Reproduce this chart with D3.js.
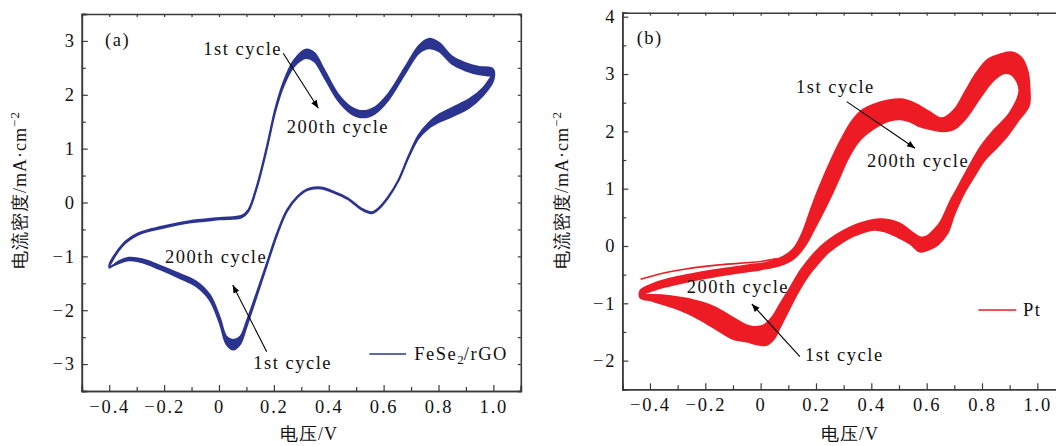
<!DOCTYPE html>
<html>
<head>
<meta charset="utf-8">
<script src="https://cdn.jsdelivr.net/npm/d3@7"></script>
<style>
body{margin:0;background:#fff}
svg text{font-family:"Liberation Serif","Times New Roman","DejaVu Serif",serif;fill:#111}
</style>
</head>
<body>
<svg width="1056" height="446"></svg>
<script>
// panel (a): FeSe2/rGO, voltage points shared by 1st and 200th cycle
var aV = [-0.40,-0.353,-0.292,-0.206,-0.108,0.003,0.083,0.107,0.138,0.175,0.205,0.236,0.273,0.316,0.347,0.384,0.433,0.482,0.525,0.568,0.617,0.678,0.728,0.764,0.801,0.85,0.899,0.948,0.998,
          1.0,0.961,0.912,0.85,0.80,0.764,0.727,0.69,0.654,0.617,0.58,0.556,0.519,0.47,0.42,0.371,0.322,0.285,0.248,0.212,0.175,0.138,0.101,0.077,0.052,0.027,0.003,-0.034,-0.083,-0.145,-0.218,-0.28,-0.329,-0.366]
var aCycle1 = [-1.185,-0.785,-0.565,-0.445,-0.345,-0.285,-0.245,-0.135,0.31,1.055,1.74,2.25,2.64,2.84,2.78,2.46,2.02,1.77,1.70,1.77,2.02,2.51,2.91,3.04,2.97,2.71,2.59,2.52,2.48,
          2.27,1.98,1.76,1.60,1.49,1.38,1.19,0.825,0.40,0.09,-0.13,-0.20,-0.13,0.06,0.18,0.26,0.23,0.09,-0.165,-0.60,-1.165,-1.735,-2.30,-2.63,-2.73,-2.63,-2.25,-1.81,-1.555,-1.40,-1.235,-1.11,-1.075,-1.13]
var aCycle200 = [-1.215,-0.815,-0.595,-0.475,-0.375,-0.315,-0.275,-0.165,0.27,1.005,1.68,2.17,2.52,2.68,2.62,2.32,1.90,1.65,1.58,1.65,1.90,2.39,2.77,2.86,2.81,2.57,2.45,2.38,2.36,
          2.39,2.12,1.92,1.76,1.63,1.48,1.25,0.855,0.42,0.11,-0.11,-0.18,-0.11,0.08,0.20,0.28,0.25,0.11,-0.135,-0.56,-1.115,-1.665,-2.20,-2.49,-2.55,-2.49,-2.13,-1.71,-1.465,-1.32,-1.165,-1.05,-1.025,-1.09]

// panel (b): Pt, outer (1st) and inner (200th) cycle
var bV1 = [-0.435,-0.40,-0.33,-0.25,-0.15,-0.05,0.03,0.08,0.12,0.15,0.18,0.21,0.25,0.29,0.33,0.37,0.41,0.46,0.51,0.56,0.61,0.655,0.70,0.74,0.78,0.82,0.87,0.905,0.94,0.965,0.972,0.97,
           0.93,0.89,0.85,0.81,0.77,0.735,0.70,0.675,0.64,0.61,0.575,0.54,0.494,0.45,0.41,0.36,0.313,0.27,0.241,0.20,0.169,0.13,0.096,0.07,0.048,0.02,-0.01,-0.05,-0.096,-0.145,-0.217,-0.27,-0.325,-0.39,-0.435]
var bI1 = [-0.78,-0.68,-0.57,-0.49,-0.41,-0.34,-0.28,-0.19,-0.04,0.22,0.62,1.00,1.45,1.85,2.18,2.38,2.47,2.54,2.56,2.48,2.34,2.23,2.38,2.70,3.02,3.25,3.35,3.38,3.30,3.05,2.75,2.45,
           2.18,1.91,1.70,1.50,1.20,0.92,0.55,0.22,0.02,-0.06,-0.10,0.04,0.16,0.25,0.28,0.22,0.12,-0.02,-0.13,-0.35,-0.54,-0.85,-1.17,-1.42,-1.62,-1.73,-1.72,-1.67,-1.63,-1.50,-1.29,-1.16,-1.06,-0.96,-0.90]
var bV200 = [-0.42,-0.38,-0.30,-0.20,-0.10,0.0,0.07,0.12,0.16,0.20,0.235,0.265,0.29,0.313,0.35,0.386,0.434,0.47,0.506,0.54,0.578,0.62,0.66,0.70,0.747,0.795,0.84,0.879,0.91,0.935,
             0.90,0.843,0.795,0.747,0.71,0.687,0.65,0.626,0.60,0.578,0.55,0.50,0.434,0.361,0.30,0.25,0.217,0.18,0.145,0.11,0.072,0.04,0.012,-0.024,-0.06,-0.096,-0.169,-0.265,-0.35]
var bI200 = [-0.84,-0.76,-0.66,-0.56,-0.48,-0.41,-0.34,-0.22,0.0,0.35,0.68,0.98,1.25,1.50,1.80,1.97,2.12,2.19,2.21,2.17,2.08,2.03,2.00,2.04,2.26,2.60,2.88,3.01,2.98,2.72,
             2.32,2.02,1.73,1.33,1.00,0.80,0.42,0.28,0.17,0.15,0.23,0.40,0.47,0.40,0.27,0.12,-0.01,-0.20,-0.42,-0.70,-1.00,-1.25,-1.38,-1.41,-1.36,-1.26,-1.06,-0.92,-0.86]
// first sweep of cycle 1 starts above the loop
var bStartV = [-0.434,-0.35,-0.27,-0.15,0.0,0.06]
var bStartI = [-0.58,-0.47,-0.40,-0.33,-0.27,-0.22]

var xTicks = [-0.4,-0.2,0,0.2,0.4,0.6,0.8,1.0]
var xMinor = [-0.5,-0.3,-0.1,0.1,0.3,0.5,0.7,0.9,1.1]
var aYTicks = [-3,-2,-1,0,1,2,3]
var aYMinor = [-3.5,-2.5,-1.5,-0.5,0.5,1.5,2.5,3.5]
var bYTicks = [-2,-1,0,1,2,3,4]
var bYMinor = [-2.5,-1.5,-0.5,0.5,1.5,2.5,3.5]

var serif = "'Liberation Serif','Times New Roman','DejaVu Serif',serif"
var svg = d3.select("svg")
svg.append("defs").append("marker")
    .attr("id","arr")
    .attr("viewBox","0 0 10 10")
    .attr("refX",10).attr("refY",5)
    .attr("markerUnits","userSpaceOnUse")
    .attr("markerWidth",9).attr("markerHeight",8)
    .attr("orient","auto")
    .append("path").attr("d","M0,1 L10,5 L0,9 Z").attr("fill","#000")

var fmtX = function(v){ return v === 0 ? "0" : d3.format(".1f")(v) }
var fmtY = function(v){ return d3.format("d")(v) }

var drawPanel = function(p)
{
    var x = d3.scaleLinear().domain([-0.5,1.1]).range(p.xr)
    var y = d3.scaleLinear().domain(p.yd).range(p.yr)
    var g = svg.append("g").attr("font-family", serif)

    // curves: ring between 1st and 200th cycle filled, both edges stroked
    var loop = d3.line().curve(d3.curveCatmullRomClosed.alpha(0.5))
    var pts1 = p.v1.map(function(v,i){ return [x(v), y(p.i1[i])] })
    var pts200 = p.v200.map(function(v,i){ return [x(v), y(p.i200[i])] })
    g.append("path").attr("d", loop(pts1) + loop(pts200))
        .attr("fill", p.color).attr("fill-rule","evenodd").attr("stroke","none")
    g.selectAll(".cyc").data([pts1, pts200]).enter().append("path")
        .attr("d", loop).attr("fill","none").attr("stroke", p.color).attr("stroke-width",1.8)
    if (p.sv)
    {
        g.append("path")
            .attr("d", d3.line().curve(d3.curveCatmullRom)(p.sv.map(function(v,i){ return [x(v), y(p.si[i])] })))
            .attr("fill","none").attr("stroke", p.color).attr("stroke-width",1.6)
    }

    // axes, ticks pointing inward
    var x0 = p.xr[0], x1 = p.xr[1], y0 = p.yr[0], y1 = p.yr[1]
    var axes = [
        {ax:d3.axisBottom(x).tickValues(xTicks).tickSize(-6).tickPadding(9).tickFormat(fmtX), t:"translate(0,"+y0+")"},
        {ax:d3.axisBottom(x).tickValues(xMinor).tickSize(-4).tickFormat(""), t:"translate(0,"+y0+")"},
        {ax:d3.axisLeft(y).tickValues(p.yt).tickSize(-6).tickPadding(6).tickFormat(fmtY), t:"translate("+x0+",0)"},
        {ax:d3.axisLeft(y).tickValues(p.ym).tickSize(-4).tickFormat(""), t:"translate("+x0+",0)"},
        {ax:d3.axisTop(x).tickValues(xTicks.concat(xMinor)).tickSize(-3).tickFormat(""), t:"translate(0,"+y1+")"},
        {ax:d3.axisRight(y).tickValues(p.yt.concat(p.ym)).tickSize(-3).tickFormat(""), t:"translate("+x1+",0)"}
    ]
    axes.forEach(function(a)
    {
        var ag = g.append("g").attr("transform", a.t).call(a.ax)
        ag.attr("font-family", serif).attr("font-size", 18.5)
        ag.select(".domain").attr("stroke","#3a3a3a").attr("stroke-width",1.6)
        ag.selectAll(".tick line").attr("stroke","#3a3a3a").attr("stroke-width",1.2)
        ag.selectAll(".tick text").style("letter-spacing","1.8px").attr("fill","#111")
    })

    // axis titles
    g.append("text").attr("x", p.xlab[0]).attr("y", p.xlab[1])
        .attr("text-anchor","middle").style("font-size","18px").style("letter-spacing","1px").text("电压/V")
    var yl = g.append("text")
        .attr("transform","translate("+p.ylab[0]+","+p.ylab[1]+") rotate(-90)")
        .attr("text-anchor","middle").attr("dy","0.35em")
        .style("font-size","18px").style("letter-spacing","1px")
    yl.append("tspan").text("电流密度/mA·cm")
    yl.append("tspan").attr("baseline-shift","super").style("font-size","13px").text("−2")

    // panel tag and annotations
    g.append("text").attr("x", x(p.tag[0])).attr("y", y(p.tag[1]))
        .style("font-size","18.5px").style("letter-spacing","1.5px").text(p.tag[2])
    p.notes.forEach(function(n)
    {
        g.append("text").attr("x", x(n[0])).attr("y", y(n[1]))
            .style("font-size","18.5px").style("letter-spacing","1.5px").text(n[2])
    })
    p.arrows.forEach(function(a)
    {
        g.append("line").attr("x1", x(a[0])).attr("y1", y(a[1])).attr("x2", x(a[2])).attr("y2", y(a[3]))
            .attr("stroke","#000").attr("stroke-width",1.1).attr("marker-end","url(#arr)")
    })

    // legend
    g.append("line").attr("x1", x(p.leg[0])).attr("x2", x(p.leg[1])).attr("y1", y(p.leg[2])).attr("y2", y(p.leg[2]))
        .attr("stroke", p.color).attr("stroke-width",1.6)
    var lt = g.append("text").attr("x", x(p.leg[3])).attr("y", y(p.leg[4]))
        .style("font-size","18.5px").style("letter-spacing","1.5px")
    p.legText.forEach(function(s)
    {
        var ts = lt.append("tspan").text(s[0])
        if (s[1]) ts.attr("dy", 4).style("font-size","13px").style("letter-spacing","0px")
        if (s[2]) ts.attr("dy", -4)
    })
}

drawPanel({
    xr:[81.8,520.8], yd:[-3.5,3.5], yr:[391,14],
    yt:aYTicks, ym:aYMinor, color:"#2b3590",
    v1:aV, i1:aCycle1, v200:aV, i200:aCycle200,
    xlab:[309,440], ylab:[19.5,190],
    tag:[-0.415,2.905,"(a)"],
    notes:[[-0.057,2.73,"1st cycle"],[0.247,1.285,"200th cycle"],[-0.197,-1.118,"200th cycle"],[0.125,-3.097,"1st cycle"]],
    arrows:[[0.234,2.77,0.362,1.749],[0.174,-2.77,0.05,-1.532]],
    leg:[0.548,0.682,-2.813,0.712,-2.924],
    legText:[["FeSe"],["2",true],["/rGO",false,true]]
})

drawPanel({
    xr:[622.3,1065], yd:[-2.5,4.07], yr:[389.3,12.7],
    yt:bYTicks, ym:bYMinor, color:"#ed1c24",
    v1:bV1, i1:bI1, v200:bV200, i200:bI200, sv:bStartV, si:bStartI,
    xlab:[850,440], ylab:[562,190],
    tag:[-0.448,3.52,"(b)"],
    notes:[[0.128,2.671,"1st cycle"],[0.384,1.38,"200th cycle"],[-0.267,-0.819,"200th cycle"],[0.160,-2.006,"1st cycle"]],
    arrows:[[0.311,2.519,0.558,1.706],[0.142,-1.931,-0.032,-1.011]],
    leg:[0.787,0.924,-1.116,0.948,-1.22],
    legText:[["Pt"]]
})
</script>
</body>
</html>
